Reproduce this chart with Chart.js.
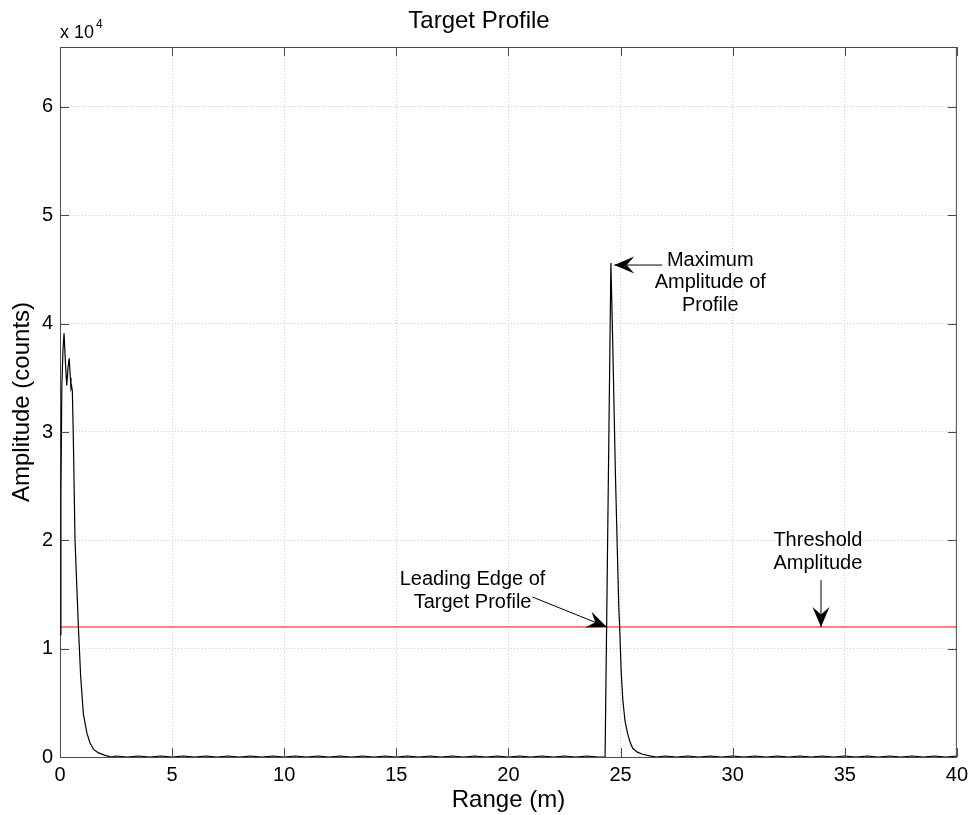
<!DOCTYPE html>
<html><head><meta charset="utf-8">
<script src="https://cdn.jsdelivr.net/npm/chart.js@4/dist/chart.umd.min.js"></script>
<style>html,body{margin:0;padding:0;background:#fff}</style>
</head><body>
<canvas id="c" width="974" height="815"></canvas>
<script>
// ---------- data ----------
const rangeM = [
  0, 0.04, 0.08, 0.13, 0.18, 0.24, 0.30, 0.36, 0.41, 0.46, 0.49, 0.52, 0.55, 0.59, 0.67, 0.82, 0.92, 1.04, 1.2, 1.34, 1.5, 1.7, 2.0, 2.3,
  2.5, 3, 3.5, 4, 4.5, 5, 5.5, 6, 6.5, 7, 7.5, 8, 8.5, 9, 9.5, 10, 10.5, 11, 11.5, 12, 12.5, 13, 13.5, 14, 14.5, 15, 15.5, 16, 16.5, 17, 17.5, 18, 18.5, 19, 19.5, 20, 20.5, 21, 21.5, 22, 22.5, 23, 23.5, 24,
  24.31, 24.57, 24.65, 24.77, 24.92, 24.96, 25.03, 25.1, 25.2, 25.31, 25.42, 25.54, 25.75, 25.98, 26.3, 26.6,
  27, 27.5, 28, 28.5, 29, 29.5, 30, 30.5, 31, 31.5, 32, 32.5, 33, 33.5, 34, 34.5, 35, 35.5, 36, 36.5, 37, 37.5, 38, 38.5, 39, 39.5, 40
];
const amplitude = [
  11300, 24000, 34000, 37500, 39100, 36500, 34300, 36000, 36800, 35000, 34000, 34200, 33800, 30000, 20000, 12000, 7500, 4000, 2200, 1300, 700, 400, 150, 0,
  90, 0, 90, 0, 90, 0, 90, 0, 90, 0, 90, 0, 90, 0, 90, 0, 90, 0, 90, 0, 90, 0, 90, 0, 90, 0, 90, 0, 90, 0, 90, 0, 90, 0, 90, 0, 90, 0, 90, 0, 90, 0, 90, 0,
  0, 45600, 38400, 26200, 13900, 12000, 7800, 5300, 3300, 2200, 1400, 800, 450, 250, 100, 0,
  90, 0, 90, 0, 90, 0, 90, 0, 90, 0, 90, 0, 90, 0, 90, 0, 90, 0, 90, 0, 90, 0, 90, 0, 90, 0, 90
];
const thresholdRange = [0, 40];
const thresholdAmplitude = [12000, 12000];

const xTicks = [0, 5, 10, 15, 20, 25, 30, 35, 40];
const xTickLabels = ['0', '5', '10', '15', '20', '25', '30', '35', '40'];
const yTicks = [0, 10000, 20000, 30000, 40000, 50000, 60000];
const yTickLabels = ['0', '1', '2', '3', '4', '5', '6'];
const yMax = 65536;

const chartTitle = 'Target Profile';
const xTitle = 'Range (m)';
const yTitle = 'Amplitude (counts)';
const yExponentBase = 'x 10';
const yExponent = '4';

// annotations (text anchored in data units)
const noteTexts = [
  ['Maximum', 'Amplitude of', 'Profile'],
  ['Leading Edge of', 'Target Profile'],
  ['Threshold', 'Amplitude']
];
const noteAnchors = [[29.0, 45870], [18.4, 16340], [33.8, 19940]];
const arrowTails = [[26.86, 45410], [21.07, 14770], [33.94, 16340]];
const arrowTips  = [[24.72, 45410], [24.39, 12000], [33.94, 12000]];

// ---------- chart ----------
const FONT = '"Liberation Sans", Arial, Helvetica, sans-serif';
const AXIS_COLOR = '#4a4a4a';

function arrowHead(ctx, x1, y1, x2, y2, L, W) {
  const a = Math.atan2(y2 - y1, x2 - x1);
  ctx.save();
  ctx.translate(x2, y2);
  ctx.rotate(a);
  ctx.beginPath();
  ctx.moveTo(0, 0);
  ctx.lineTo(-L, -W);
  ctx.lineTo(-L * 0.62, 0);
  ctx.lineTo(-L, W);
  ctx.closePath();
  ctx.fill();
  ctx.restore();
}

const decorPlugin = {
  id: 'decor',
  afterDraw(chart) {
    const {ctx, chartArea: ca, scales: {x, y}} = chart;
    ctx.save();
    // box top / right
    ctx.strokeStyle = AXIS_COLOR;
    ctx.lineWidth = 1;
    ctx.beginPath();
    ctx.moveTo(ca.left, ca.top + 0.5); ctx.lineTo(ca.right, ca.top + 0.5);
    ctx.moveTo(ca.right - 0.5, ca.top); ctx.lineTo(ca.right - 0.5, ca.bottom);
    ctx.stroke();
    // inward ticks
    const T = 9;
    ctx.beginPath();
    xTicks.forEach(v => {
      const px = Math.round(x.getPixelForValue(v)) + 0.5;
      ctx.moveTo(px, ca.bottom); ctx.lineTo(px, ca.bottom - T);
      ctx.moveTo(px, ca.top); ctx.lineTo(px, ca.top + T);
    });
    yTicks.forEach(v => {
      const py = Math.round(y.getPixelForValue(v)) + 0.5;
      ctx.moveTo(ca.left, py); ctx.lineTo(ca.left + T, py);
      ctx.moveTo(ca.right, py); ctx.lineTo(ca.right - T, py);
    });
    ctx.stroke();
    // exponent label
    ctx.fillStyle = '#000';
    ctx.font = '18px ' + FONT;
    ctx.textAlign = 'left';
    ctx.textBaseline = 'alphabetic';
    ctx.fillText(yExponentBase, ca.left, ca.top - 9);
    const w = ctx.measureText(yExponentBase).width;
    ctx.font = '12px ' + FONT;
    ctx.fillText(yExponent, ca.left + w + 2, ca.top - 19);
    // annotations
    ctx.font = '20px ' + FONT;
    ctx.textAlign = 'center';
    ctx.textBaseline = 'middle';
    noteTexts.forEach((lines, i) => {
      const cx = x.getPixelForValue(noteAnchors[i][0]);
      const cy = y.getPixelForValue(noteAnchors[i][1]);
      lines.forEach((t, k) => ctx.fillText(t, cx, cy + k * 22.5));
    });
    ctx.strokeStyle = '#000';
    ctx.lineWidth = 1;
    arrowTails.forEach((tl, i) => {
      const x1 = x.getPixelForValue(tl[0]), y1 = y.getPixelForValue(tl[1]);
      const x2 = x.getPixelForValue(arrowTips[i][0]), y2 = y.getPixelForValue(arrowTips[i][1]);
      ctx.beginPath(); ctx.moveTo(x1, y1); ctx.lineTo(x2, y2); ctx.stroke();
      arrowHead(ctx, x1, y1, x2, y2, 20, 8.5);
    });
    ctx.restore();
  }
};

new Chart(document.getElementById('c'), {
  type: 'line',
  data: {
    datasets: [
      {
        label: 'Profile',
        data: rangeM.map((r, i) => ({x: r, y: amplitude[i]})),
        borderColor: '#000',
        borderWidth: 1.2,
        pointRadius: 0,
        tension: 0,
        fill: false
      },
      {
        label: 'Threshold',
        data: thresholdRange.map((r, i) => ({x: r, y: thresholdAmplitude[i]})),
        borderColor: '#ff0000',
        borderWidth: 1,
        pointRadius: 0,
        fill: false
      }
    ]
  },
  options: {
    responsive: false,
    animation: false,
    devicePixelRatio: 1,
    layout: {padding: {left: 0, right: 16, top: 0, bottom: 0}},
    plugins: {
      legend: {display: false},
      tooltip: {enabled: false},
      title: {
        display: true,
        text: chartTitle,
        color: '#000',
        font: {family: FONT, size: 24, weight: 'normal', lineHeight: 1.2},
        padding: {top: 7, bottom: 11.2}
      }
    },
    scales: {
      x: {
        type: 'linear',
        min: 0, max: 40,
        afterBuildTicks: s => { s.ticks = xTicks.map(v => ({value: v})); },
        afterFit: s => { s.height = 58; },
        ticks: {
          color: '#000',
          font: {family: FONT, size: 20},
          padding: 6,
          maxRotation: 0,
          autoSkip: false,
          callback: (v) => xTickLabels[xTicks.indexOf(v)]
        },
        grid: {color: '#cccccc', lineWidth: 1, drawTicks: false},
        border: {display: true, color: AXIS_COLOR, width: 1, dash: [1, 2]},
        title: {display: true, text: xTitle, color: '#000', font: {family: FONT, size: 24, lineHeight: 1.2}, padding: {top: 0, bottom: 0}}
      },
      y: {
        type: 'linear',
        min: 0, max: yMax,
        afterBuildTicks: s => { s.ticks = yTicks.map(v => ({value: v})); },
        afterFit: s => { s.width = 60; },
        ticks: {
          color: '#000',
          font: {family: FONT, size: 20},
          padding: 7,
          autoSkip: false,
          callback: (v) => yTickLabels[yTicks.indexOf(v)]
        },
        grid: {color: '#cccccc', lineWidth: 1, drawTicks: false},
        border: {display: true, color: AXIS_COLOR, width: 1, dash: [1, 2]},
        title: {display: true, text: yTitle, color: '#000', font: {family: FONT, size: 24, lineHeight: 1.2}, padding: {top: 8, bottom: 0}}
      }
    }
  },
  plugins: [decorPlugin]
});
</script>
</body></html>
